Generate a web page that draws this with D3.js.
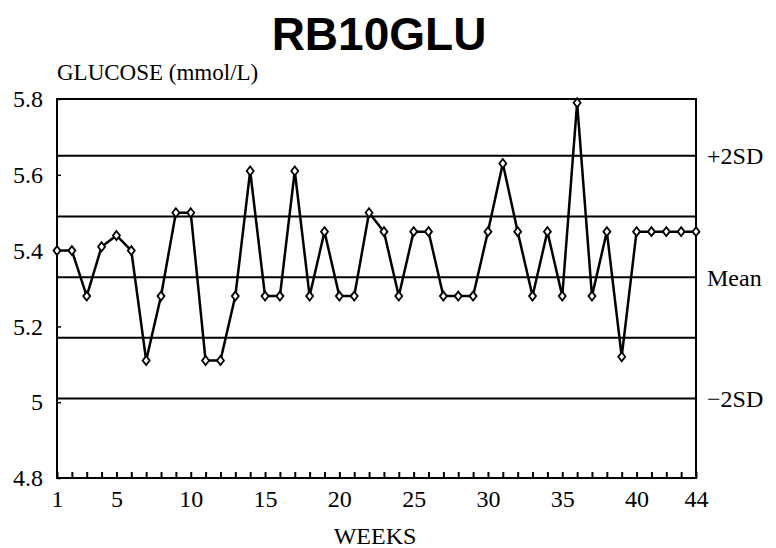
<!DOCTYPE html>
<html lang="en">
<head>
  <meta charset="UTF-8">
  <title>RB10GLU</title>
  <script src="https://d3js.org/d3.v7.min.js"></script>
  <style>
    html, body { margin: 0; padding: 0; background: #fff; }
    text { fill: #000; }
    .serif { font-family: "Liberation Serif", "Times New Roman", serif; }
  </style>
</head>
<body>
  <div id="container"></div>
  <script>
    // weekly glucose control values (mmol/L)
    const weeks = d3.range(1, 45)
    const glucose = [5.40, 5.40, 5.28, 5.41, 5.44, 5.40, 5.11, 5.28, 5.50, 5.50,
                     5.11, 5.11, 5.28, 5.61, 5.28, 5.28, 5.61, 5.28, 5.45, 5.28,
                     5.28, 5.50, 5.45, 5.28, 5.45, 5.45, 5.28, 5.28, 5.28, 5.45,
                     5.63, 5.45, 5.28, 5.45, 5.28, 5.79, 5.28, 5.45, 5.12, 5.45,
                     5.45, 5.45, 5.45, 5.45]
    const yTicks = [4.8, 5, 5.2, 5.4, 5.6, 5.8]
    const xTicks = [1, 5, 10, 15, 20, 25, 30, 35, 40, 44]
    const sdLevels = [5.65, 5.49, 5.33, 5.17, 5.01]
    const sdLabels = [{v: 5.65, t: '+2SD'}, {v: 5.33, t: 'Mean'}, {v: 5.01, t: '\u22122SD'}]

    const width = 776, height = 548
    const margin = {top: 99, left: 57, right: 80, bottom: 70}

    const svg = d3.select('#container').append('svg')
      .attr('width', width).attr('height', height)

    const x = d3.scaleLinear().domain([1, 44]).range([margin.left, width - margin.right])
    const y = d3.scaleLinear().domain([4.8, 5.8]).range([height - margin.bottom, margin.top])

    // title
    svg.append('text')
      .attr('x', 379).attr('y', 50)
      .attr('text-anchor', 'middle')
      .style('font-family', '"Liberation Sans", Arial, sans-serif')
      .style('font-weight', 'bold')
      .style('font-size', '46px')
      .text('RB10GLU')

    svg.append('text').attr('class', 'serif')
      .attr('x', 57).attr('y', 80)
      .style('font-size', '23px')
      .text('GLUCOSE (mmol/L)')

    // frame
    svg.append('rect')
      .attr('x', x(1)).attr('y', y(5.8))
      .attr('width', x(44) - x(1)).attr('height', y(4.8) - y(5.8))
      .attr('fill', 'none').attr('stroke', '#000').attr('stroke-width', 2)

    // SD lines
    svg.selectAll('.sd').data(sdLevels).enter().append('line')
      .attr('class', 'sd')
      .attr('x1', x(1)).attr('x2', x(44))
      .attr('y1', d => y(d)).attr('y2', d => y(d))
      .attr('stroke', '#000').attr('stroke-width', 2)

    svg.selectAll('.sdlab').data(sdLabels).enter().append('text')
      .attr('class', 'serif sdlab')
      .attr('x', x(44) + 11).attr('y', d => y(d.v))
      .attr('dy', '0.35em')
      .style('font-size', '24px')
      .text(d => d.t)

    // y axis
    const yAxis = d3.axisLeft(y).tickValues(yTicks).tickFormat(d3.format('')).tickSizeInner(-4).tickSizeOuter(0).tickPadding(14)
    const yg = svg.append('g').attr('transform', `translate(${x(1)},0)`).call(yAxis)
    yg.select('.domain').remove()
    yg.selectAll('line').attr('stroke-width', 1.5)
    yg.selectAll('text').attr('class', 'serif').style('font-size', '24px').attr('fill', '#000')

    // x axis: label ticks + a small tick each week
    const xAxis = d3.axisBottom(x).tickValues(weeks).tickFormat(d => xTicks.includes(d) ? d : '').tickSizeInner(-6).tickSizeOuter(0).tickPadding(12)
    const xg = svg.append('g').attr('transform', `translate(0,${y(4.8)})`).call(xAxis)
    xg.select('.domain').remove()
    xg.selectAll('line').attr('stroke-width', 2)
    xg.selectAll('text').attr('class', 'serif').style('font-size', '24px').attr('fill', '#000')

    svg.append('text').attr('class', 'serif')
      .attr('x', 375).attr('y', 544)
      .attr('text-anchor', 'middle')
      .style('font-size', '24px')
      .text('WEEKS')

    // data line
    const line = d3.line().x((d, i) => x(weeks[i])).y(d => y(d))
    svg.append('path')
      .datum(glucose)
      .attr('d', line)
      .attr('fill', 'none').attr('stroke', '#000').attr('stroke-width', 2.5)
      .attr('stroke-linejoin', 'round')

    // diamond markers
    svg.selectAll('.pt').data(glucose).enter().append('path')
      .attr('class', 'pt')
      .attr('transform', (d, i) => `translate(${x(weeks[i])},${y(d)})`)
      .attr('d', 'M0,-4.5L3.5,0L0,4.5L-3.5,0Z')
      .attr('fill', '#fff').attr('stroke', '#000').attr('stroke-width', 1.8)
  </script>
</body>
</html>
